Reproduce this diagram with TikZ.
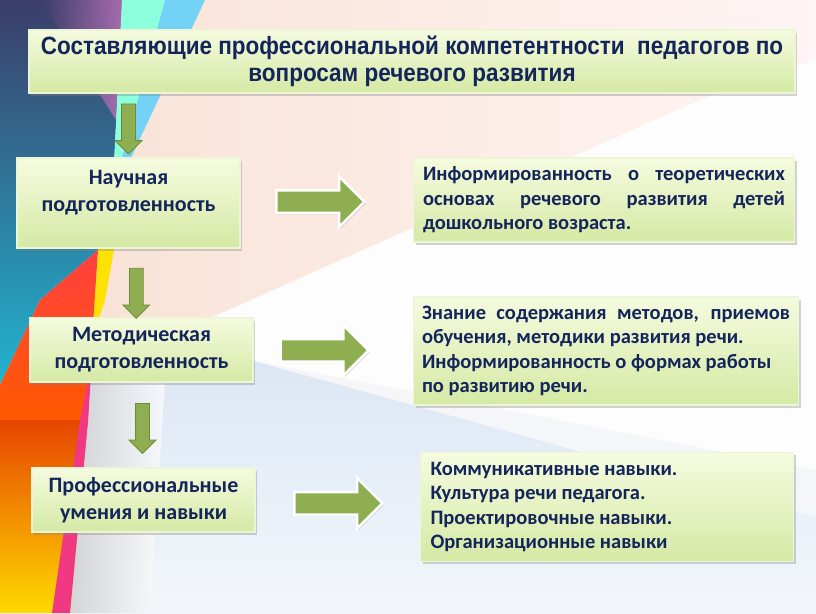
\documentclass[tikz,border=0pt]{standalone}
\usepackage{fontspec}
\setmainfont{Carlito}
\newfontfamily\zagfont[FakeStretch=0.9]{Liberation Sans}
\usetikzlibrary{calc,shapes.arrows,shadows}
\setlength{\parindent}{0pt}
\definecolor{tekst}{HTML}{13255A}
\definecolor{zelen}{HTML}{8FAE52}
\definecolor{zelentemn}{HTML}{6E8B35}
\definecolor{blokverh}{HTML}{F5FBDF}
\definecolor{bloknizh}{HTML}{D5E9A4}
\definecolor{persik}{HTML}{F9E3D7}
\definecolor{goluboy}{HTML}{DCE7F4}
\definecolor{sliva}{HTML}{3B3D69}
\definecolor{stal}{HTML}{5B7AA2}
\definecolor{biryuza}{HTML}{22B4CE}

\begin{document}
\begin{tikzpicture}[x=1pt,y=-1pt,
  blok/.style={rectangle,top color=blokverh,bottom color=bloknizh,
    draw=white!55!bloknizh,line width=1.2pt,text=tekst,
    drop shadow={opacity=0.35,shadow xshift=2pt,shadow yshift=-2.5pt}},
  levtekst/.style={font=\fontsize{22}{27}\selectfont\bfseries,align=center},
  pravtekst/.style={font=\fontsize{20.5}{24.5}\selectfont\bfseries,align=justify},
  vpravo/.style={single arrow,fill=zelen,draw=white,line width=2.5pt,
    minimum height=88,minimum width=48,single arrow head extend=14,inner sep=10pt,
    drop shadow={opacity=0.3,shadow xshift=1.5pt,shadow yshift=-1.5pt}},
  vniz/.style={single arrow,shape border rotate=270,fill=zelen,draw=zelentemn,
    line width=0.8pt,minimum height=50,minimum width=26,single arrow head extend=6.5,
    inner sep=6.5pt}]
  \useasboundingbox (0,0) rectangle (816,613);
  % фон
  \shade[top color=white!97!red,bottom color=goluboy!40] (0,0) rectangle (816,613);
  \shade[left color=persik,right color=white!96!red] (100,0) -- (816,0) -- (816,60)
    -- (700,100) -- (150,345) -- (100,345) -- cycle;
  \fill[white,opacity=0.85] (150,345) -- (700,100) -- (816,60) -- (816,470) -- (250,360) -- cycle;
  \shade[top color=goluboy,bottom color=goluboy!35] (90,360) -- (250,360) -- (816,517)
    -- (816,613) -- (70,613) -- cycle;
  \shade[left color=black!22,right color=white,opacity=0.7] (90,380) -- (165,380)
    -- (150,613) -- (70,613) -- cycle;
  % полосы слева
  \shade[top color=sliva,middle color=stal,bottom color=biryuza] (0,0) -- (122,0)
    -- (114,165) -- (120,165) -- (98,250) -- (40,300) -- (0,385) -- cycle;
  \shade[left color=sliva,right color=violet!55!white,opacity=0.85]
    (40,0) -- (122,0) -- (116,120) -- cycle;
  \fill[green!30!cyan!45] (122,0) -- (165,0) -- (120,165) -- (114,165) -- cycle;
  \fill[cyan!55] (165,0) -- (205,0) -- (130,160) -- (120,165) -- cycle;
  \fill[yellow!85!orange] (120,165) -- (130,160) -- (105,300) -- (92,340) -- (98,250) -- cycle;
  \shade[top color=red!75,bottom color=orange!70!red] (98,250) -- (92,340) -- (88,420)
    -- (0,420) -- (0,385) -- (40,300) -- cycle;
  \shade[top color=orange!60!red!90!black,bottom color=yellow!70!orange] (0,420) -- (88,420)
    -- (70,613) -- (0,613) -- cycle;
  \fill[magenta!70!red!80] (92,360) -- (88,420) -- (70,613) -- (52,613) -- (80,420) -- cycle;
  % заголовок
  \node[blok,minimum width=766,minimum height=63,align=center,
    font=\zagfont\bfseries\fontsize{25}{27}\selectfont] (zag) at (412,61.5)
    {Составляющие профессиональной компетентности \ педагогов по\\вопросам речевого развития};
  % левый столбец
  \node[blok,levtekst,minimum width=223,minimum height=90,text depth=25pt] (nauch) at (128.5,203)
    {Научная\\подготовленность};
  \node[blok,levtekst,minimum width=223,minimum height=64] (metod) at (141.5,350)
    {Методическая\\подготовленность};
  \node[blok,levtekst,minimum width=223,minimum height=64] (prof) at (143.5,500)
    {Профессиональные\\умения и навыки};
  % правый столбец
  \node[blok,pravtekst,minimum width=381,minimum height=84,text width=362] (inform) at (604,200)
    {Информированность о теоретических\linebreak основах речевого развития детей\linebreak
     дошкольного возраста.};
  \node[blok,pravtekst,minimum width=385,minimum height=108,text width=368] (znan) at (606,351)
    {Знание содержания методов, приемов\linebreak обучения, методики развития речи.\\
     Информированность о формах работы\\по развитию речи.};
  \node[blok,pravtekst,align=flush left,minimum width=373,minimum height=109,text width=353] (komm) at (607,507)
    {Коммуникативные навыки.\\Культура речи педагога.\\Проектировочные навыки.\\Организационные навыки};
  % стрелки вниз
  \node[vniz] (d1) at ($(zag.south -| nauch.north)!0.5!(nauch.north)$) {};
  \node[vniz] (d2) at ($(nauch.south)!0.6!(metod.north)$) {};
  \node[vniz] (d3) at ($(metod.south)!0.5!(prof.north)$) {};
  % стрелки вправо
  \node[vpravo] (r1) at ($(nauch.east)!0.43!(inform.west)$) {};
  \node[vpravo] (r2) at ($(metod.east)!0.41!(znan.west)$) {};
  \node[vpravo] (r3) at ($(prof.east)!0.47!(komm.west)$) {};
\end{tikzpicture}
\end{document}
